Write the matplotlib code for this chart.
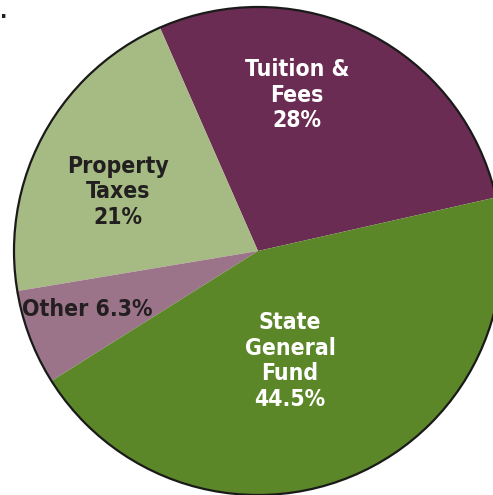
#!/usr/bin/env python3
"""
Pie chart of revenue sources
"""
import matplotlib.pyplot as plt
from matplotlib.patches import Circle

# data
categories = ['Tuition &\nFees', 'Property\nTaxes', 'Other', 'State\nGeneral\nFund']
shares = [28, 21, 6.3, 44.5]
colors = ['#6a2c53', '#a5bb83', '#9c7489', '#5b8729']
text_colors = ['white', '#231f20', '#231f20', 'white']

W, H = 493, 495
fig = plt.figure(figsize=(W / 100, H / 100), dpi=100)
ax = fig.add_axes([0, 0, 1, 1])

# pie center / radius in pixel coords (y up)
cx, cy, r = 258, H - 251, 244

ax.pie(shares, colors=colors, startangle=12.7, counterclock=True,
       center=(cx, cy), radius=r, frame=True,
       wedgeprops=dict(linewidth=0, antialiased=True))
ax.set_xlim(0, W)
ax.set_ylim(0, H)
ax.set_aspect('equal')
ax.axis('off')

# outer outline
ax.add_patch(Circle((cx, cy), r, fill=False, edgecolor='#1a1a1a', linewidth=1.6))

# stray dot in the top-left corner
ax.text(4, H - 18, '.', ha='center', va='baseline', fontsize=14,
        fontweight='bold', color='#231f20')

# labels (pixel positions, y measured from top)
label_pos = [(297, 95), (118, 192), (87, 309), (290, 361)]
for cat, val, col, (x, y) in zip(categories, shares, text_colors, label_pos):
    if cat == 'Other':
        txt = f'{cat} {val:g}%'
    else:
        txt = f'{cat}\n{val:g}%'
    ax.text(x, H - y, txt, ha='center', va='center', color=col,
            fontsize=16.5, fontweight='bold', fontstretch='condensed',
            linespacing=1.15, family='DejaVu Sans')

fig.savefig('out.png', dpi=100)
